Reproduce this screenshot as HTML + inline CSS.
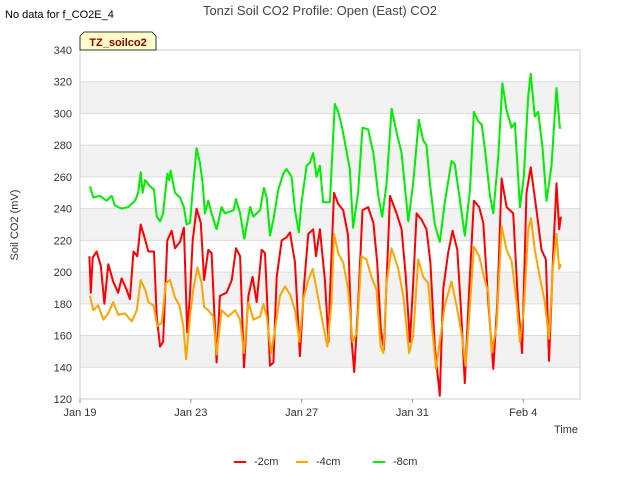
<!DOCTYPE html>
<html><head><meta charset="utf-8"><style>
body{margin:0;background:#fff;font-family:"Liberation Sans","DejaVu Sans",sans-serif;}
svg{display:block}
</style></head><body>
<svg id="chart" width="640" height="480" xmlns="http://www.w3.org/2000/svg" font-family="Liberation Sans, DejaVu Sans, sans-serif">
<rect width="640" height="480" fill="#fff"/>
<g id="bands"></g>
<g id="grid"></g>
<rect x="80" y="50" width="500" height="349" fill="none" stroke="#ccc"/>
<g id="series"></g>
<g id="axes"></g>
<text x="5" y="18" font-size="11" fill="#000">No data for f_CO2E_4</text>
<text x="320" y="15" font-size="13" fill="#444" text-anchor="middle">Tonzi Soil CO2 Profile: Open (East) CO2</text>
<g>
<path d="M80,50 L80,36 L84,32 L152,32 L156,36 L156,50 Z" fill="#ffffcc" stroke="#000" stroke-width="0.8"/>
<text x="118" y="46" font-size="11" font-weight="bold" fill="#8b0000" text-anchor="middle">TZ_soilco2</text>
</g>
<text transform="translate(18,225) rotate(-90)" font-size="11" fill="#333" text-anchor="middle">Soil CO2 (mV)</text>
<text x="566" y="433" font-size="11" fill="#333" text-anchor="middle">Time</text>
<g id="legend"></g>
</svg>
<script>
const yTicks=[120,140,160,180,200,220,240,260,280,300,320,340];
const xTickDays=[0,4,8,12,16];
const xTickLabels=["Jan 19","Jan 23","Jan 27","Jan 31","Feb 4"];
const seriesNames=["-2cm","-4cm","-8cm"];
const seriesColors=["#ff0000","#ffa500","#00ee00"];
const redT=[0.34,0.39,0.46,0.6,0.75,0.88,1.02,1.2,1.38,1.5,1.68,1.8,1.93,2.07,2.19,2.31,2.47,2.67,2.77,2.89,3.0,3.15,3.31,3.43,3.61,3.75,3.87,3.97,4.07,4.21,4.36,4.48,4.63,4.75,4.93,5.05,5.29,5.48,5.63,5.78,5.92,6.08,6.23,6.38,6.56,6.68,6.86,6.98,7.1,7.28,7.46,7.58,7.76,7.94,8.09,8.24,8.42,8.52,8.66,8.84,8.97,9.02,9.17,9.32,9.5,9.68,9.8,9.9,10.04,10.2,10.4,10.59,10.73,10.86,10.97,11.19,11.43,11.61,11.76,11.91,12.03,12.15,12.33,12.51,12.65,12.81,12.99,13.11,13.29,13.45,13.62,13.77,13.89,14.05,14.22,14.41,14.56,14.74,14.92,15.07,15.22,15.4,15.64,15.82,15.96,16.12,16.27,16.48,16.66,16.82,16.93,17.08,17.2,17.3,17.36];
const redV=[210,187,209,213,204,180,205,194,187,196,189,183,213,210,230,223,213,213,172,153,156,220,226,215,219,228,162,186,220,240,231,195,214,212,143,185,187,195,215,210,140,185,197,181,214,212,141,143,197,220,222,225,206,147,192,224,227,210,227,195,156,185,250,243,239,223,158,137,179,239,241,231,206,164,151,248,237,227,197,156,193,237,233,227,206,153,122,189,212,226,214,172,130,189,245,241,231,181,139,183,259,241,237,179,149,250,266,239,214,208,144,210,256,227,235];
const orgT=[0.36,0.48,0.66,0.84,1.02,1.2,1.38,1.62,1.87,2.05,2.19,2.35,2.47,2.65,2.79,2.95,3.1,3.25,3.43,3.59,3.73,3.83,3.97,4.09,4.24,4.39,4.48,4.63,4.81,4.93,5.11,5.35,5.6,5.78,5.92,6.08,6.26,6.5,6.62,6.74,6.9,7.04,7.22,7.4,7.58,7.76,7.92,8.06,8.24,8.4,8.54,8.76,8.93,9.08,9.17,9.32,9.5,9.68,9.84,10.0,10.16,10.34,10.52,10.7,10.85,10.95,11.07,11.25,11.49,11.67,11.88,12.03,12.21,12.39,12.57,12.73,12.85,12.99,13.17,13.41,13.59,13.77,13.92,14.05,14.22,14.41,14.58,14.74,14.86,15.04,15.22,15.4,15.58,15.76,15.88,16.02,16.18,16.28,16.42,16.6,16.78,16.93,17.08,17.2,17.3,17.36];
const orgV=[185,176,179,170,174,181,173,174,169,176,195,189,181,179,166,168,193,195,184,179,166,145,172,189,203,193,178,176,172,148,176,172,176,170,149,181,170,172,180,172,149,164,185,191,186,176,156,183,195,202,189,168,153,181,224,212,206,189,156,162,210,208,197,189,153,149,193,215,202,185,149,160,208,197,193,162,139,156,179,194,179,162,141,172,216,210,197,187,149,166,229,214,207,181,156,176,227,234,214,197,181,158,204,224,202,205];
const grnT=[0.36,0.48,0.72,0.96,1.14,1.26,1.5,1.74,1.99,2.1,2.19,2.26,2.35,2.53,2.67,2.77,2.89,3.0,3.15,3.22,3.27,3.43,3.61,3.75,3.85,3.97,4.09,4.21,4.33,4.43,4.51,4.63,4.75,4.93,5.11,5.23,5.54,5.63,5.78,5.93,6.14,6.26,6.5,6.64,6.74,6.86,6.98,7.16,7.34,7.46,7.64,7.76,7.9,8.0,8.18,8.3,8.42,8.54,8.66,8.78,9.02,9.2,9.32,9.44,9.56,9.74,9.86,10.04,10.2,10.4,10.59,10.77,10.91,11.07,11.25,11.43,11.61,11.85,12.03,12.23,12.39,12.51,12.63,12.81,12.99,13.17,13.41,13.53,13.71,13.89,14.08,14.22,14.38,14.5,14.62,14.8,14.92,15.1,15.25,15.4,15.58,15.7,15.88,16.02,16.18,16.27,16.42,16.54,16.7,16.84,17.02,17.2,17.32,17.36];
const grnV=[254,247,248,245,248,242,240,241,245,250,263,250,258,254,252,235,232,237,262,258,264,250,247,241,230,231,256,278,269,256,237,245,237,227,241,237,239,246,237,221,241,235,239,253,247,223,233,252,262,265,260,239,225,244,267,269,275,260,267,244,244,306,301,293,282,265,228,250,291,290,275,248,235,256,303,288,275,232,256,296,283,280,256,230,219,244,270,268,246,223,252,301,295,293,277,248,237,273,319,302,291,294,241,260,311,325,298,301,278,245,267,316,291,291];

const X0=80,X1=580,Y0=399,Y1=50,DMAX=18.05,VMIN=120,VMAX=340;
function xs(d){return X0+d*(X1-X0)/DMAX;}
function ys(v){return Y0-(v-VMIN)*(Y0-Y1)/(VMAX-VMIN);}
const NS="http://www.w3.org/2000/svg";
function mk(tag,attrs,parent){const e=document.createElementNS(NS,tag);for(const k in attrs)e.setAttribute(k,attrs[k]);parent.appendChild(e);return e;}
const bands=document.getElementById('bands'),grid=document.getElementById('grid'),axes=document.getElementById('axes');
for(let i=0;i<yTicks.length-1;i++){
  if(i%2===1){const b=mk('rect',{x:X0,y:ys(yTicks[i+1]),width:X1-X0,height:ys(yTicks[i])-ys(yTicks[i+1]),fill:'#f2f2f2'},bands);
  
  }
}
yTicks.forEach(v=>{
  const l=mk('line',{x1:X0,x2:X1,y1:ys(v),y2:ys(v),stroke:'#dcdcdc','stroke-width':1},grid);
  
  
  const t=mk('text',{x:X0-8,y:ys(v)+4,'font-size':11,fill:'#333','text-anchor':'end'},axes);
  
  
  t.textContent=v;
});
xTickDays.forEach((d,i)=>{
  const tk=mk('line',{x1:xs(d),x2:xs(d),y1:Y0,y2:Y0+4,stroke:'#999'},axes);
  
  
  const t=mk('text',{x:xs(d),y:Y0+17,'font-size':11,fill:'#333','text-anchor':'middle'},axes);
  
  
  t.textContent=xTickLabels[i];
});
const series=document.getElementById('series');
const data=[[redT,redV],[orgT,orgV],[grnT,grnV]];
data.forEach((s,k)=>{
  const pts=s[0].map((t,i)=>xs(t).toFixed(1)+','+ys(s[1][i]).toFixed(1)).join(' ');
  const p=mk('polyline',{points:pts,fill:'none',stroke:seriesColors[k],'stroke-width':2,'stroke-linejoin':'round'},series);
  
  
});
const legend=document.getElementById('legend');
const lx=[234,296,373];
seriesNames.forEach((n,k)=>{
  const g=mk('g',{},legend);
  
  
  mk('line',{x1:lx[k],x2:lx[k]+12,y1:462,y2:462,stroke:seriesColors[k],'stroke-width':2},g);
  const t=mk('text',{x:lx[k]+20,y:465,'font-size':11,fill:'#333'},g);
  t.textContent=n;
});
</script>
</body></html>
